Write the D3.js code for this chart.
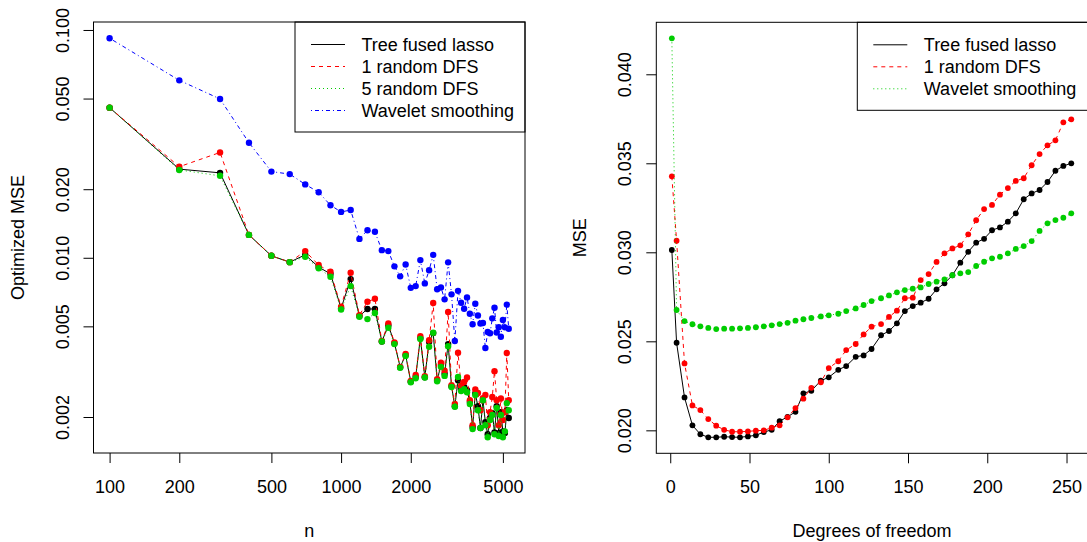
<!DOCTYPE html>
<html lang="en">
<head>
	<meta charset="UTF-8">
	<title>Tree fused lasso MSE</title>
	<script src="https://d3js.org/d3.v7.min.js"></script>
	<style>
		body { margin: 0; background: #ffffff; }
		text { font-family: "Liberation Sans", Arial, Helvetica, sans-serif; font-size: 18px; fill: #000; }
		.axis .domain { display: none; }
		.axis line { stroke: #000; }
		.frame { fill: none; stroke: #000; stroke-width: 1; }
	</style>
</head>
<body>
<script>
	// ---- left panel: optimized MSE vs n ----
	var nGrid = [100, 200, 300, 400, 500, 600, 700, 800, 900, 1000,
		1100, 1200, 1300, 1400, 1500, 1600, 1700, 1800, 1900, 2000,
		2100, 2200, 2300, 2400, 2500, 2600, 2700, 2800, 2900, 3000,
		3100, 3200, 3300, 3400, 3500, 3600, 3700, 3800, 3900, 4000,
		4100, 4200, 4300, 4400, 4500, 4600, 4700, 4800, 4900, 5000,
		5100, 5200, 5300];
	var tflMSE = [0.0456, 0.0245, 0.0236, 0.0126, 0.0102, 0.00957, 0.0103, 0.0091, 0.0085, 0.0060,
		0.00806, 0.00555, 0.00596, 0.00596, 0.00429, 0.00506, 0.00422, 0.00331, 0.00374, 0.00286,
		0.00300, 0.00444, 0.00299, 0.00428, 0.00467, 0.00290, 0.00338, 0.00310, 0.00418, 0.00273,
		0.00223, 0.00290, 0.00265, 0.00271, 0.00262, 0.00233, 0.00181, 0.00254, 0.00223, 0.00179,
		0.00237, 0.00190, 0.00168, 0.00198, 0.00208, 0.00171, 0.00223, 0.00170, 0.00210, 0.00173,
		0.00170, 0.00214, 0.00198];
	var dfs1MSE = [0.0456, 0.0251, 0.0290, 0.0126, 0.0102, 0.00957, 0.0107, 0.00929, 0.00868, 0.00610,
		0.00859, 0.00560, 0.00641, 0.00661, 0.00431, 0.00515, 0.00425, 0.00332, 0.00378, 0.00288,
		0.00306, 0.00453, 0.00302, 0.00435, 0.00633, 0.00293, 0.00346, 0.00319, 0.00578, 0.00276,
		0.00228, 0.00383, 0.00274, 0.00285, 0.00298, 0.00237, 0.00184, 0.00264, 0.00255, 0.00214,
		0.00242, 0.00250, 0.00184, 0.00210, 0.00245, 0.00318, 0.00237, 0.00184, 0.00241, 0.00194,
		0.00210, 0.00382, 0.00237];
	var dfs5MSE = [0.0456, 0.0243, 0.0229, 0.0126, 0.0102, 0.00957, 0.0101, 0.0090, 0.00825, 0.00593,
		0.00751, 0.00551, 0.00538, 0.00572, 0.00429, 0.00493, 0.00418, 0.00329, 0.00371, 0.00284,
		0.00296, 0.00440, 0.00298, 0.00407, 0.00469, 0.00287, 0.00332, 0.00303, 0.00409, 0.00271,
		0.00222, 0.00300, 0.00260, 0.00265, 0.00257, 0.00228, 0.00177, 0.00250, 0.00214, 0.00179,
		0.00237, 0.00184, 0.00163, 0.00194, 0.00204, 0.00168, 0.00219, 0.00165, 0.00204, 0.00163,
		0.00173, 0.00230, 0.00214];
	var waveletMSE = [0.0920, 0.0601, 0.0498, 0.0320, 0.0239, 0.0233, 0.0210, 0.0194, 0.0170, 0.0159,
		0.0162, 0.0121, 0.0132, 0.0130, 0.0108, 0.0107, 0.00917, 0.00829, 0.00935, 0.00738,
		0.00751, 0.00977, 0.00772, 0.00881, 0.0103, 0.00727, 0.00741, 0.00657, 0.00955, 0.00691,
		0.00431, 0.00716, 0.00635, 0.00597, 0.00670, 0.00568, 0.00511, 0.00628, 0.00558, 0.00515,
		0.00517, 0.00402, 0.00472, 0.00466, 0.00542, 0.00603, 0.00470, 0.00496, 0.00450, 0.00533,
		0.00495, 0.00623, 0.00488];
	var nTicks = [100, 200, 500, 1000, 2000, 5000];
	var mseTicksLog = [0.002, 0.005, 0.010, 0.020, 0.050, 0.100];

	// ---- right panel: MSE vs degrees of freedom ----
	var dfGrid = [1, 4, 9, 14, 19, 24, 29, 34, 39, 44, 49, 54, 59, 64, 69, 74, 79, 84, 89, 95,
		100, 106, 111, 117, 122, 127, 133, 138, 143, 148, 153, 158, 163, 168, 173, 178, 183, 188, 193, 198,
		203, 208, 213, 218, 223, 228, 233, 238, 243, 248, 253];
	var tflDf = [0.03013, 0.02492, 0.02185, 0.02028, 0.01978, 0.01961, 0.01961, 0.01964, 0.01962, 0.01961,
		0.01966, 0.01972, 0.01990, 0.02003, 0.02051, 0.02076, 0.02104, 0.02208, 0.02222, 0.02279,
		0.02298, 0.02340, 0.02361, 0.02413, 0.02421, 0.02457, 0.02534, 0.02558, 0.02601, 0.02670,
		0.02698, 0.02717, 0.02739, 0.02792, 0.02826, 0.02871, 0.02942, 0.03003, 0.03054, 0.03076,
		0.03124, 0.03140, 0.03172, 0.03219, 0.03298, 0.03331, 0.03350, 0.03395, 0.03458, 0.03485,
		0.03500];
	var dfs1Df = [0.03427, 0.03065, 0.02376, 0.02140, 0.02114, 0.02063, 0.02026, 0.02003, 0.01992, 0.01992,
		0.01994, 0.01998, 0.02000, 0.02015, 0.02028, 0.02073, 0.02125, 0.02178, 0.02239, 0.02270,
		0.02350, 0.02388, 0.02451, 0.02485, 0.02539, 0.02582, 0.02597, 0.02637, 0.02672, 0.02742,
		0.02745, 0.02844, 0.02878, 0.02946, 0.02994, 0.03022, 0.03039, 0.03101, 0.03180, 0.03243,
		0.03266, 0.03324, 0.03361, 0.03401, 0.03416, 0.03489, 0.03552, 0.03601, 0.03629, 0.03730,
		0.03747];
	var waveletDf = [0.04202, 0.02676, 0.02614, 0.02596, 0.02584, 0.02575, 0.02569, 0.02571, 0.02571, 0.02573,
		0.02575, 0.02579, 0.02584, 0.02590, 0.02597, 0.02604, 0.02616, 0.02624, 0.02631, 0.02640,
		0.02646, 0.02655, 0.02670, 0.02685, 0.02704, 0.02726, 0.02742, 0.02758, 0.02775, 0.02788,
		0.02796, 0.02803, 0.02822, 0.02835, 0.02848, 0.02871, 0.02882, 0.02889, 0.02923, 0.02947,
		0.02966, 0.02975, 0.02994, 0.03019, 0.03035, 0.03063, 0.03120, 0.03163, 0.03181, 0.03194,
		0.03219];
	var dfTicks = [0, 50, 100, 150, 200, 250];
	var mseTicksLin = [0.020, 0.025, 0.030, 0.035, 0.040];

	var W = 1087, H = 542;
	var svg = d3.select('body').append('svg')
		.attr('width', W)
		.attr('height', H);
	svg.append('rect').attr('width', W).attr('height', H).attr('fill', '#fff');

	function drawSeries(g, xs, ys, x, y, s, r) {
		var pts = xs.map(function (d, i) { return [d, ys[i]]; });
		g.append('path')
			.datum(pts)
			.attr('fill', 'none')
			.attr('stroke', s.color)
			.attr('stroke-width', 1)
			.attr('stroke-dasharray', s.dash)
			.attr('d', d3.line().x(function (d) { return x(d[0]); }).y(function (d) { return y(d[1]); }));
		g.selectAll(null)
			.data(pts)
			.enter().append('circle')
			.attr('cx', function (d) { return x(d[0]); })
			.attr('cy', function (d) { return y(d[1]); })
			.attr('r', r)
			.attr('fill', s.color);
	}

	function drawLegend(g, x0, y0, w, h, items) {
		g.append('rect').attr('class', 'frame')
			.attr('x', x0).attr('y', y0).attr('width', w).attr('height', h);
		var row = g.selectAll('.leg').data(items).enter().append('g')
			.attr('class', 'leg')
			.attr('transform', function (d, i) { return 'translate(' + x0 + ',' + (y0 + 22.5 + i * 22) + ')'; });
		row.append('line')
			.attr('x1', 16).attr('x2', 50).attr('y1', 0).attr('y2', 0)
			.attr('stroke', function (d) { return d.color; })
			.attr('stroke-dasharray', function (d) { return d.dash; });
		row.append('text')
			.attr('x', 66.5).attr('y', 6)
			.text(function (d) { return d.label; });
	}

	var sTfl = {label: 'Tree fused lasso', color: '#000000', dash: null};
	var sDfs1 = {label: '1 random DFS', color: '#ff0000', dash: '4,4'};
	var sDfs5 = {label: '5 random DFS', color: '#00cd00', dash: '1,3'};
	var sWav = {label: 'Wavelet smoothing', color: '#0000ff', dash: '1,3,4,3'};
	var sWavR = {label: 'Wavelet smoothing', color: '#00cd00', dash: '1,3'};

	//----left----//
	var L = {left: 93.5, right: 525, top: 22, bottom: 453};
	var xL = d3.scaleLog().domain([85.2, 6230]).range([L.left, L.right]);
	var yL = d3.scaleLog().domain([0.00139, 0.1084]).range([L.bottom, L.top]);
	var gL = svg.append('g');

	gL.append('g').attr('class', 'axis')
		.attr('transform', 'translate(0,' + L.bottom + ')')
		.call(d3.axisBottom(xL).tickValues(nTicks).tickFormat(d3.format('d')).tickSize(10).tickSizeOuter(0))
		.selectAll('text').attr('y', 40).attr('dy', 0).style('font-size', '18px');
	gL.append('g').attr('class', 'axis')
		.attr('transform', 'translate(' + L.left + ',0)')
		.call(d3.axisLeft(yL).tickValues(mseTicksLog).tickFormat(d3.format('.3f')).tickSize(10).tickSizeOuter(0))
		.selectAll('text')
		.attr('transform', 'rotate(-90)')
		.attr('x', 0).attr('y', -25).attr('dy', 0)
		.attr('text-anchor', 'middle').style('font-size', '18px');

	drawSeries(gL, nGrid, tflMSE, xL, yL, sTfl, 3.2);
	drawSeries(gL, nGrid, dfs1MSE, xL, yL, sDfs1, 3.2);
	drawSeries(gL, nGrid, dfs5MSE, xL, yL, sDfs5, 3.2);
	drawSeries(gL, nGrid, waveletMSE, xL, yL, sWav, 3.2);

	gL.append('rect').attr('class', 'frame')
		.attr('x', L.left).attr('y', L.top)
		.attr('width', L.right - L.left).attr('height', L.bottom - L.top);
	drawLegend(gL, 295, L.top, L.right - 295, 110, [sTfl, sDfs1, sDfs5, sWav]);

	gL.append('text').attr('x', (L.left + L.right) / 2).attr('y', 537)
		.attr('text-anchor', 'middle').text('n');
	gL.append('text')
		.attr('transform', 'translate(24,' + (L.top + L.bottom) / 2 + ') rotate(-90)')
		.attr('text-anchor', 'middle').text('Optimized MSE');

	//----right----//
	var R = {left: 656.3, right: 1087.6, top: 22.3, bottom: 453.3};
	var xR = d3.scaleLinear().domain([-8.8, 263.3]).range([R.left, R.right]);
	var yR = d3.scaleLinear().domain([0.01871, 0.04292]).range([R.bottom, R.top]);
	var gR = svg.append('g');

	gR.append('g').attr('class', 'axis')
		.attr('transform', 'translate(0,' + R.bottom + ')')
		.call(d3.axisBottom(xR).tickValues(dfTicks).tickFormat(d3.format('d')).tickSize(10).tickSizeOuter(0))
		.selectAll('text').attr('y', 40).attr('dy', 0).style('font-size', '18px');
	gR.append('g').attr('class', 'axis')
		.attr('transform', 'translate(' + R.left + ',0)')
		.call(d3.axisLeft(yR).tickValues(mseTicksLin).tickFormat(d3.format('.3f')).tickSize(10).tickSizeOuter(0))
		.selectAll('text')
		.attr('transform', 'rotate(-90)')
		.attr('x', 0).attr('y', -25.5).attr('dy', 0)
		.attr('text-anchor', 'middle').style('font-size', '18px');

	drawSeries(gR, dfGrid, tflDf, xR, yR, sTfl, 2.9);
	drawSeries(gR, dfGrid, dfs1Df, xR, yR, sDfs1, 2.9);
	drawSeries(gR, dfGrid, waveletDf, xR, yR, sWavR, 2.9);

	gR.append('rect').attr('class', 'frame')
		.attr('x', R.left).attr('y', R.top)
		.attr('width', R.right - R.left).attr('height', R.bottom - R.top);
	drawLegend(gR, 857.3, R.top, 245, 88, [sTfl, sDfs1, sWavR]);

	gR.append('text').attr('x', (R.left + R.right) / 2).attr('y', 537)
		.attr('text-anchor', 'middle').text('Degrees of freedom');
	gR.append('text')
		.attr('transform', 'translate(586,' + (R.top + R.bottom) / 2 + ') rotate(-90)')
		.attr('text-anchor', 'middle').text('MSE');
</script>
</body>
</html>
